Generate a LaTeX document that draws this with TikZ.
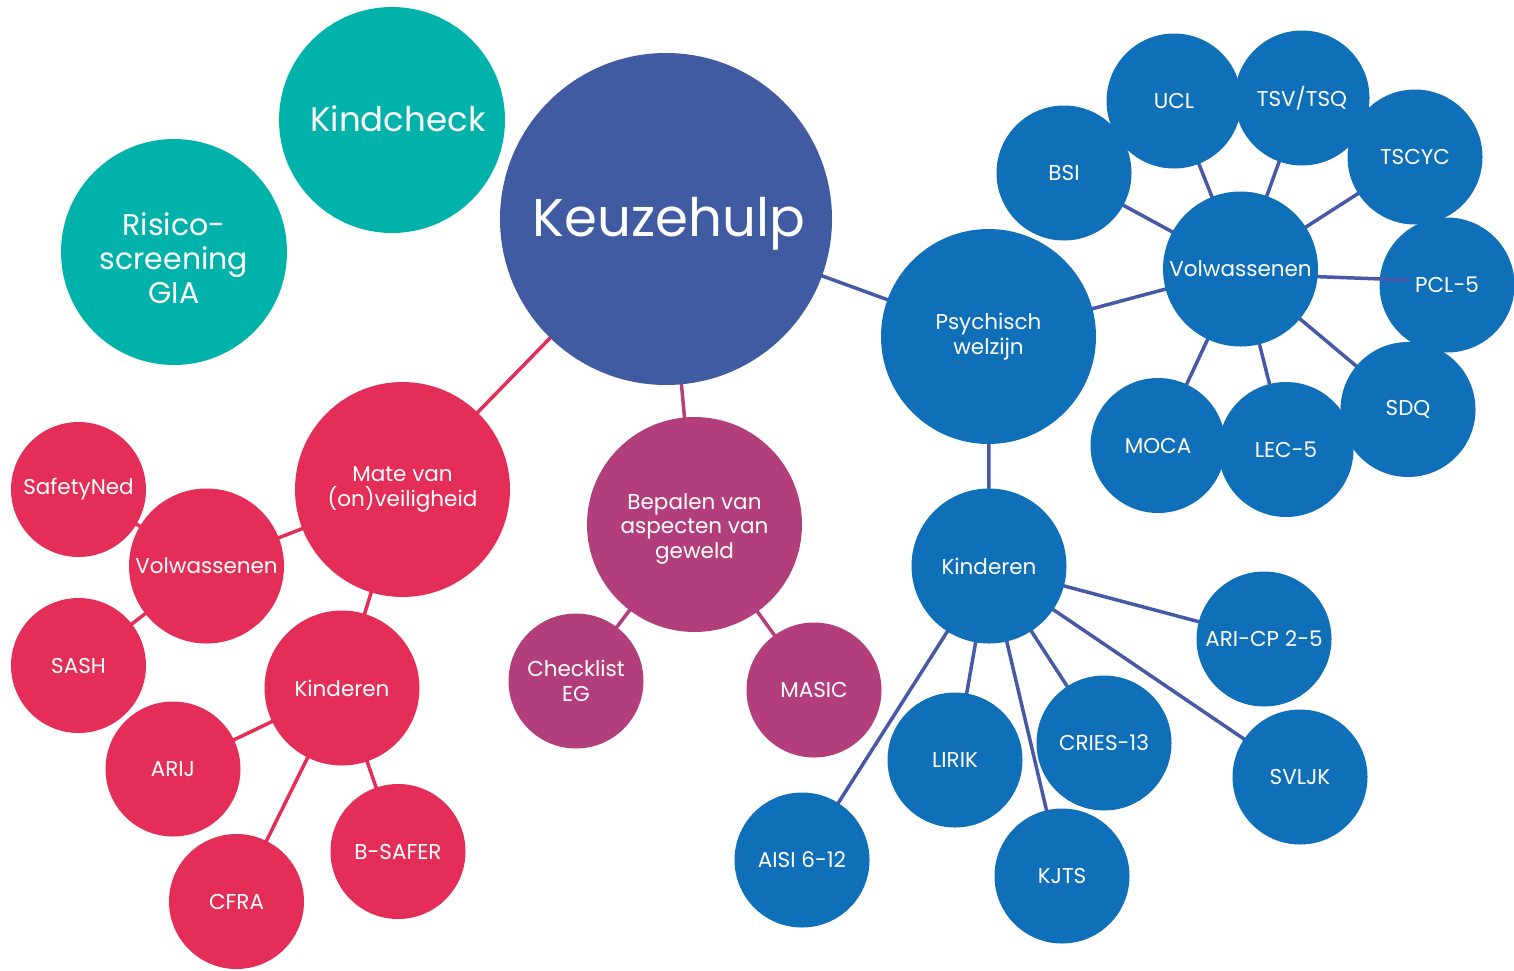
\documentclass[tikz,border=0pt]{standalone}
\usepackage{fontspec}
\setmainfont{Poppins}
\definecolor{keuze}{HTML}{415BA3}
\definecolor{teal}{HTML}{00B2AA}
\definecolor{blu}{HTML}{0F6FB8}
\definecolor{rood}{HTML}{E42D57}
\definecolor{paars}{HTML}{B23F7B}
\definecolor{lijnb}{HTML}{4759A6}
\pgfdeclarelayer{bg}
\pgfsetlayers{bg,main}
\tikzset{
  bub/.style={circle, inner sep=0pt, align=center, text=white},
  txt/.style={inner sep=0pt, align=center, text=white},
  sm/.style={bub, minimum size=135pt, font=\fontsize{21.5}{25}\selectfont},
  md/.style={bub, minimum size=155pt, font=\fontsize{21.5}{25}\selectfont},
  lg/.style={bub, minimum size=215pt, font=\fontsize{21.5}{24.5}\selectfont},
  cb/.style={fill=blu},
  cr/.style={fill=rood},
  cp/.style={fill=paars},
  lb/.style={draw=lijnb, line width=3.5pt},
  lr/.style={draw=rood, line width=3.5pt},
  lp/.style={draw=paars, line width=3.5pt},
}
\begin{document}
\begin{tikzpicture}[x=1pt,y=-1pt]
\useasboundingbox (0,0) rectangle (1514,970);
% top-level
\node[bub, fill=keuze, minimum size=332pt,
  label={[txt, font=\fontsize{53}{58}\selectfont, xshift=3pt, yshift=-5pt]center:Keuzehulp}] (keuze) at (666,219) {};
\node[bub, fill=teal, minimum size=226pt,
  label={[txt, font=\fontsize{34}{38}\selectfont, xshift=6pt, yshift=1pt]center:Kindcheck}] (kindcheck) at (392,120) {};
\node[bub, fill=teal, minimum size=226pt,
  label={[txt, font=\fontsize{30}{34}\selectfont, yshift=-6pt]center:{Risico-\\screening\\GIA}}] (risico) at (174,252) {};
% blue cluster
\node[lg, cb] (psych) at (988.5,336.5) {Psychisch\\welzijn};
\node[sm, cb] (bsi) at (1064,173) {BSI};
\node[sm, cb] (ucl) at (1174,101) {UCL};
\node[sm, cb] (tsv) at (1302,98) {TSV/TSQ};
\node[sm, cb] (tscyc) at (1415,157) {TSCYC};
\node[sm, cb] (pcl) at (1447,285) {PCL-5};
\node[sm, cb] (sdq) at (1408,409.5) {SDQ};
\node[sm, cb] (lec) at (1286,449.5) {LEC-5};
\node[sm, cb] (moca) at (1158,445.5) {MOCA};
\coordinate (pclend) at (1409,280);
\draw[lb] (1300,276) -- (pclend);
\node[md, cb] (vwb) at (1240.5,269) {Volwassenen};
\node[md, cb] (kib) at (989,566) {Kinderen};
\node[sm, cb] (ari) at (1264,639) {ARI-CP 2-5};
\node[sm, cb] (svljk) at (1300,777) {SVLJK};
\node[sm, cb] (cries) at (1104,743) {CRIES-13};
\node[sm, cb] (kjts) at (1062,876) {KJTS};
\node[sm, cb] (lirik) at (955,760) {LIRIK};
\node[sm, cb] (aisi) at (802,860) {AISI 6-12};
% red cluster
\node[lg, cr] (mate) at (402.5,489.5) {Mate van\\(on)veiligheid};
\node[md, cr] (vwr) at (206.5,566) {Volwassenen};
\node[sm, cr] (safety) at (78.5,489.5) {SafetyNed};
\node[sm, cr] (sash) at (78.5,665.5) {SASH};
\node[md, cr] (kir) at (342,688) {Kinderen};
\node[sm, cr] (arij) at (173,769) {ARIJ};
\node[sm, cr] (cfra) at (236.5,901.5) {CFRA};
\node[sm, cr] (bsafer) at (398,851.5) {B-SAFER};
% purple cluster
\node[bub, cp, minimum size=215pt,
  label={[txt, font=\fontsize{21.5}{24.5}\selectfont, yshift=-4pt]center:{Bepalen van\\aspecten van\\geweld}}] (bepalen) at (694.5,524.5) {};
\node[sm, cp] (check) at (576,681) {Checklist\\EG};
\node[sm, cp] (masic) at (814,690) {MASIC};
% connectors
\begin{pgfonlayer}{bg}
\draw[lb] (keuze.center) -- (psych.center);
\draw[lr] (keuze.center) -- (mate.center);
\draw[lp] (keuze.center) -- (bepalen.center);
\draw[lb] (psych.center) -- (vwb.center);
\draw[lb] (psych.center) -- (kib.center);
\foreach \t in {bsi,ucl,tsv,tscyc,sdq,lec,moca}
  \draw[lb] (vwb.center) -- (\t.center);
\foreach \t in {ari,svljk,cries,kjts,lirik,aisi}
  \draw[lb] (kib.center) -- (\t.center);
\draw[lr] (mate.center) -- (vwr.center);
\draw[lr] (mate.center) -- (kir.center);
\draw[lr] (vwr.center) -- (safety.center);
\draw[lr] (vwr.center) -- (sash.center);
\foreach \t in {arij,cfra,bsafer}
  \draw[lr] (kir.center) -- (\t.center);
\draw[lp] (bepalen.center) -- (check.center);
\draw[lp] (bepalen.center) -- (masic.center);
\end{pgfonlayer}
\end{tikzpicture}
\end{document}
